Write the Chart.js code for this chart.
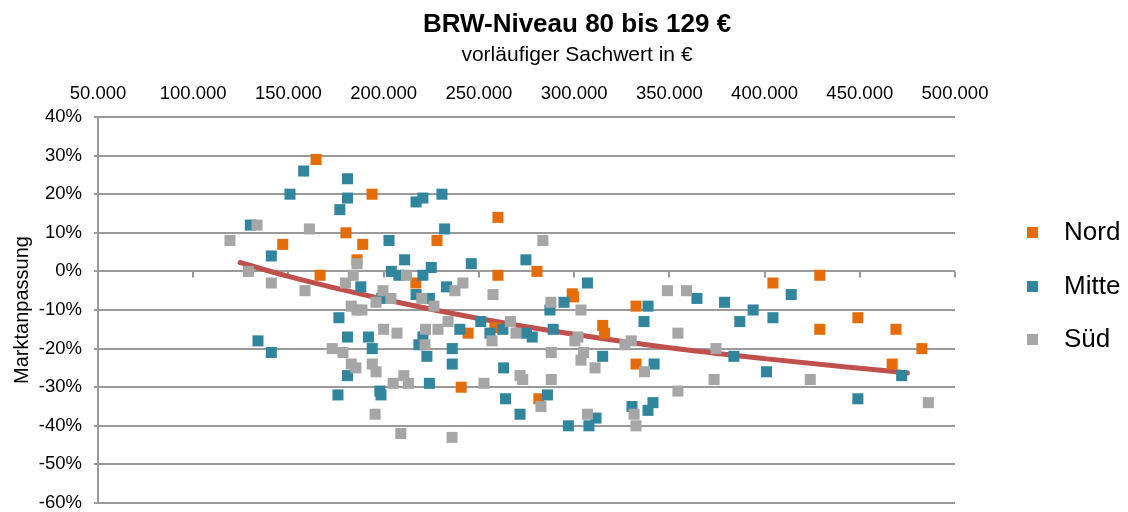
<!DOCTYPE html>
<html lang="de">
<head>
    <meta charset="UTF-8">
    <title>BRW-Niveau 80 bis 129 €</title>
    <script src="https://cdn.jsdelivr.net/npm/chart.js"></script>
    <style>
        body { margin: 0; background: #fff; }
        #wrap { width: 1128px; height: 512px; }
    </style>
</head>
<body>
    <div id="wrap">
        <canvas id="myChart" width="1128" height="512"></canvas>
    </div>

    <script>
        // Sachwert in €, Marktanpassung in %
        var nordX = [164500, 193900, 147000, 180200, 166600, 189000, 186000, 260000, 228000, 216900,
                     260000, 244300, 258400, 240700, 280500, 299000, 299700, 332500, 315000, 316000,
                     332500, 281500, 404400, 429000, 449000, 429000, 469000, 482600, 467000];
        var nordY = [29, 20, 7, 10, -1, 7, 3, 14, 8, -3,
                     -1, -16, -14.6, -30, 0, -5.8, -6.6, -9, -14, -16,
                     -24, -33, -3, -1, -12, -15, -15, -20, -24];

        var mitteX = [158000, 181000, 150800, 181000, 177000, 130000, 141000, 176500, 181000, 134000,
                      141000, 181000, 176000, 217000, 220600, 230600, 232000, 202800, 211000, 246000,
                      204000, 225000, 208000, 220600, 188000, 233000, 217000, 224000, 199000, 251000,
                      240000, 255800, 262600, 192000, 194000, 220600, 218500, 222700, 236000, 236000,
                      263000, 224000, 198000, 198600, 264000, 274700, 307000, 287300, 294700, 289000,
                      275000, 278000, 338800, 336700, 315000, 342000, 271600, 286000, 297000, 307800,
                      311500, 330400, 341400, 338800, 364500, 379000, 394000, 387000, 404400, 414000,
                      383900, 401000, 449000, 472000];
        var mitteY = [26, 24, 20, 19, 16, 12, 4, -12, -17, -18,
                      -21, -27, -32, 18, 19, 20, 11, 8, 3, 2,
                      0, 1, -1, -1, -4, -4, -6, -7, -7, -13,
                      -15, -16, -15, -17, -20, -17, -19, -22, -20, -24,
                      -25, -29, -31, -32, -33, 3, -3, -10, -8, -15,
                      -16, -17, -9, -13, -22, -24, -37, -32, -40, -40,
                      -38, -35, -34, -36, -7, -8, -10, -13, -12, -6,
                      -22, -26, -33, -27];

        var suedX = [133500, 119300, 161000, 186000, 129000, 141000, 158700, 180000, 184000, 183000,
                     186000, 173000, 178600, 183000, 185400, 212000, 241600, 199600, 203800, 196000,
                     188600, 220000, 226400, 237400, 257400, 233800, 200000, 207000, 222000, 228500,
                     256900, 266500, 221700, 194000, 196000, 205000, 210600, 213000, 252700, 195500,
                     209000, 235900, 349000, 287800, 303600, 269500, 302000, 300400, 330000, 326700,
                     354500, 288000, 305000, 303600, 311000, 337000, 271600, 273000, 288000, 354500,
                     282600, 307000, 331500, 332500, 283600, 359000, 374500, 373500, 424000, 486000];
        var suedY = [12, 8, 11, 2, 0, -3, -5, -3, -1, -9,
                     -10, -20, -21, -24, -25, -1, -3, -5, -7, -8,
                     -10, -7, -9, -5, -6, -13, -15, -16, -15, -15,
                     -18, -13, -19, -24, -26, -29, -27, -29, -29, -37,
                     -42, -43, -5, -8, -10, -16, -17, -18, -18, -19,
                     -16, -21, -21, -23, -25, -26, -27, -28, -28, -31,
                     -35, -37, -37, -40, 8, -5, -20, -28, -28, -34];

        // Trendlinie, Punkte entlang der Kurve
        var trendX = [124600, 150000, 200000, 250000, 300000, 350000, 400000, 450000, 475000];
        var trendY = [2.3, -1.3, -7.2, -12.2, -16.3, -19.8, -22.6, -25.1, -26.3];

        var xTicks = [50000, 100000, 150000, 200000, 250000, 300000, 350000, 400000, 450000, 500000];
        var yTicks = [-60, -50, -40, -30, -20, -10, 0, 10, 20, 30, 40];

        var seriesNames = ['Nord', 'Mitte', 'Süd'];
        var seriesColors = ['#E46C0A', '#31859C', '#A6A6A6'];

        var FONT = 'Liberation Sans, Arial, sans-serif';
        var GRID = '#9a9a9a';

        function pts(xs, ys) {
            return xs.map(function (x, i) { return { x: x, y: ys[i] }; });
        }

        function pointSet(label, data, color, order) {
            return {
                label: label,
                data: data,
                backgroundColor: color,
                borderWidth: 0,
                pointStyle: 'rect',
                pointRadius: 7.8,
                pointHoverRadius: 7.8,
                order: order
            };
        }

        // Titel, Untertitel und Legende
        var decorations = {
            id: 'decorations',
            afterDraw: function (chart) {
                var ctx = chart.ctx;
                ctx.save();
                ctx.fillStyle = '#000';
                ctx.textAlign = 'center';
                ctx.textBaseline = 'alphabetic';
                ctx.font = 'bold 26px ' + FONT;
                ctx.fillText('BRW-Niveau 80 bis 129 €', 577, 32);
                ctx.font = '21px ' + FONT;
                ctx.fillText('vorläufiger Sachwert in €', 577, 61);

                ctx.textAlign = 'left';
                ctx.textBaseline = 'middle';
                ctx.font = '26px ' + FONT;
                var legendY = [232, 286, 339];
                seriesNames.forEach(function (name, i) {
                    ctx.fillStyle = seriesColors[i];
                    ctx.fillRect(1027, legendY[i] - 5, 11, 11);
                    ctx.fillStyle = '#000';
                    ctx.fillText(name, 1064, legendY[i] + 1);
                });
                ctx.restore();
            }
        };

        // Teilstriche der Rechtsachse auf der 0%-Linie
        var zeroAxisTicks = {
            id: 'zeroAxisTicks',
            beforeDatasetsDraw: function (chart) {
                var ctx = chart.ctx;
                var xs = chart.scales.x;
                var y0 = chart.scales.y.getPixelForValue(0);
                ctx.save();
                ctx.strokeStyle = GRID;
                ctx.lineWidth = 2;
                xs.ticks.forEach(function (t) {
                    var px = Math.round(xs.getPixelForValue(t.value));
                    ctx.beginPath();
                    ctx.moveTo(px, y0);
                    ctx.lineTo(px, y0 + 6);
                    ctx.stroke();
                });
                ctx.restore();
            }
        };

        var ctx = document.getElementById('myChart').getContext('2d');
        var myChart = new Chart(ctx, {
            type: 'scatter',
            data: {
                datasets: [
                    {
                        label: 'Trend',
                        data: pts(trendX, trendY),
                        showLine: true,
                        borderColor: '#C0504D',
                        borderWidth: 5,
                        borderCapStyle: 'round',
                        cubicInterpolationMode: 'monotone',
                        pointRadius: 0,
                        pointHoverRadius: 0,
                        order: 4
                    },
                    pointSet(seriesNames[0], pts(nordX, nordY), seriesColors[0], 3),
                    pointSet(seriesNames[1], pts(mitteX, mitteY), seriesColors[1], 2),
                    pointSet(seriesNames[2], pts(suedX, suedY), seriesColors[2], 1)
                ]
            },
            options: {
                responsive: false,
                animation: false,
                events: [],
                layout: { padding: { left: 0, right: 173, top: 0, bottom: 9 } },
                plugins: {
                    legend: { display: false },
                    title: { display: false },
                    tooltip: { enabled: false }
                },
                scales: {
                    x: {
                        type: 'linear',
                        position: 'top',
                        min: xTicks[0],
                        max: xTicks[xTicks.length - 1],
                        afterBuildTicks: function (s) {
                            s.ticks = xTicks.map(function (v) { return { value: v }; });
                        },
                        afterFit: function (s) { s.height = 117; },
                        grid: { display: false, drawTicks: false },
                        border: { display: false },
                        ticks: {
                            padding: 12,
                            color: '#000',
                            font: { family: FONT, size: 18.5 },
                            callback: function (v) { return v.toLocaleString('de-DE'); }
                        }
                    },
                    y: {
                        type: 'linear',
                        min: yTicks[0],
                        max: yTicks[yTicks.length - 1],
                        afterBuildTicks: function (s) {
                            s.ticks = yTicks.map(function (v) { return { value: v }; });
                        },
                        afterFit: function (s) {
                            s.width = 98;
                            // Beschriftung darf über den Plotbereich hinausragen
                            s.paddingTop = 0;
                            s.paddingBottom = 0;
                        },
                        grid: { color: GRID, lineWidth: 2, tickLength: 4 },
                        border: { display: true, color: GRID, width: 2 },
                        title: {
                            display: true,
                            text: 'Marktanpassung',
                            color: '#000',
                            font: { family: FONT, size: 20 },
                            padding: { top: 10, bottom: 4 }
                        },
                        ticks: {
                            padding: 12,
                            color: '#000',
                            font: { family: FONT, size: 18.5, lineHeight: 1 },
                            callback: function (v) { return v + '%'; }
                        }
                    }
                }
            },
            plugins: [decorations, zeroAxisTicks]
        });
    </script>
</body>
</html>
